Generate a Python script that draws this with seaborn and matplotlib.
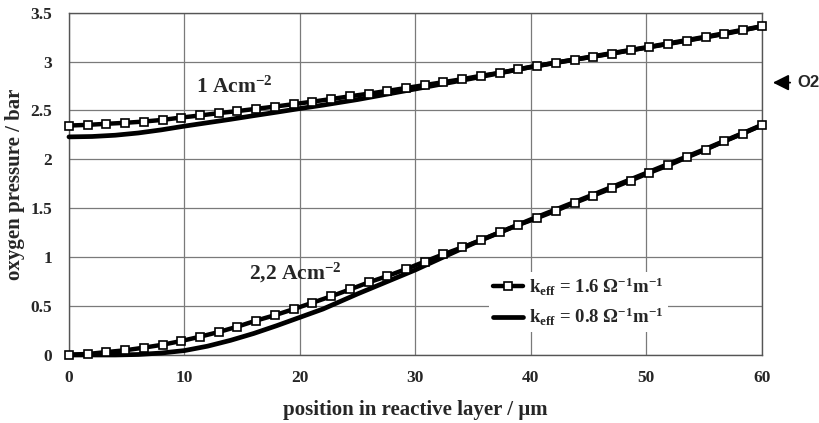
import numpy as np
import pandas as pd
import matplotlib
matplotlib.use("Agg")
import matplotlib.pyplot as plt
import seaborn as sns

# ---------------- data ----------------
n_sq = 38
x_sq = [i * 60.0 / 37 for i in range(n_sq)]

upper_sq = [2.346, 2.353, 2.364, 2.374, 2.387, 2.404, 2.428, 2.449, 2.473, 2.494,
            2.517, 2.54, 2.565, 2.59, 2.617, 2.645, 2.672, 2.70, 2.73, 2.76,
            2.79, 2.82, 2.855, 2.885, 2.92, 2.955, 2.99, 3.02, 3.05, 3.082,
            3.115, 3.147, 3.18, 3.214, 3.248, 3.282, 3.32, 3.36]
lower_sq = [0.004, 0.01, 0.03, 0.048, 0.075, 0.105, 0.143, 0.187, 0.235, 0.29,
            0.352, 0.407, 0.469, 0.534, 0.60, 0.67, 0.742, 0.807, 0.878, 0.955,
            1.03, 1.10, 1.175, 1.254, 1.33, 1.40, 1.475, 1.555, 1.63, 1.705,
            1.784, 1.863, 1.938, 2.02, 2.10, 2.185, 2.264, 2.35]

x_solid = [0, 2, 4, 6, 8, 10, 12, 14, 16, 18, 20, 22, 25, 30, 35, 40, 45, 50, 55, 60]
upper_solid = [2.23, 2.234, 2.247, 2.27, 2.302, 2.34, 2.375, 2.41, 2.447, 2.483,
               2.52, 2.555, 2.612, 2.72, 2.83, 2.945, 3.045, 3.145, 3.25, 3.36]
lower_solid = [0.0, 0.0, 0.0, 0.005, 0.02, 0.045, 0.09, 0.15, 0.22, 0.30,
               0.385, 0.47, 0.625, 0.87, 1.14, 1.385, 1.62, 1.86, 2.10, 2.35]

x_ticks = [0, 10, 20, 30, 40, 50, 60]
y_ticks = [0, 0.5, 1, 1.5, 2, 2.5, 3, 3.5]
y_tick_labels = ["0", "0.5", "1", "1.5", "2", "2.5", "3", "3.5"]

label_sq = r"k$_{eff}$ = 1.6 $\Omega^{-1}$m$^{-1}$"
label_solid = r"k$_{eff}$ = 0.8 $\Omega^{-1}$m$^{-1}$"

# ---------------- style ----------------
sns.set_style("white")
plt.rcParams["font.family"] = ["Liberation Serif", "DejaVu Serif"]
plt.rcParams["font.weight"] = "bold"
plt.rcParams["mathtext.fontset"] = "custom"
plt.rcParams["mathtext.rm"] = "Liberation Serif:bold"
plt.rcParams["mathtext.bf"] = "Liberation Serif:bold"
plt.rcParams["mathtext.it"] = "Liberation Serif:bold"
plt.rcParams["mathtext.default"] = "bf"

fig = plt.figure(figsize=(8.2, 4.23), dpi=100)
ax = fig.add_axes([0.0841, 0.1608, 0.929 - 0.0841, 0.97 - 0.1608])

df_sq_u = pd.DataFrame({"x": x_sq, "y": upper_sq})
df_sq_l = pd.DataFrame({"x": x_sq, "y": lower_sq})
df_so_u = pd.DataFrame({"x": x_solid, "y": upper_solid})
df_so_l = pd.DataFrame({"x": x_solid, "y": lower_solid})

sq_kw = dict(color="black", linewidth=3.2, marker="s", markersize=6.3,
             markerfacecolor="white", markeredgecolor="black", markeredgewidth=1.2)
so_kw = dict(color="black", linewidth=3.4)

sns.lineplot(data=df_so_u, x="x", y="y", ax=ax, label=label_solid, zorder=3, **so_kw)
sns.lineplot(data=df_so_l, x="x", y="y", ax=ax, zorder=3, **so_kw)
sns.lineplot(data=df_sq_u, x="x", y="y", ax=ax, label=label_sq, zorder=4, **sq_kw)
sns.lineplot(data=df_sq_l, x="x", y="y", ax=ax, zorder=4, **sq_kw)
for ln in ax.get_lines():
    ln.set_clip_on(False)

ax.set_xlim(0, 60)
ax.set_ylim(0, 3.5)
ax.set_xticks(x_ticks)
ax.set_xticklabels([str(t) for t in x_ticks])
ax.set_yticks(y_ticks)
ax.set_yticklabels(y_tick_labels)
ax.tick_params(axis="x", length=0, labelsize=12.5, pad=11)
ax.tick_params(axis="y", length=0, labelsize=12.5, pad=12)
for lab in ax.get_xticklabels() + ax.get_yticklabels():
    lab.set_fontweight("bold")

ax.grid(True, color="#7a7a7a", linewidth=0.9)
ax.set_axisbelow(True)
for s in ax.spines.values():
    s.set_color("#555555")
    s.set_linewidth(1.0)

ax.set_xlabel("position in reactive layer / µm", fontsize=15, fontweight="bold", labelpad=10)
ax.set_ylabel("oxygen pressure / bar", fontsize=15, fontweight="bold", labelpad=4)

ax.text(11.0, 2.74, r"1 Acm$^{-2}$", fontsize=15.5, fontweight="bold", va="center", ha="left")
ax.text(15.6, 0.84, r"2,2 Acm$^{-2}$", fontsize=15.5, fontweight="bold", va="center", ha="left")

# O2 arrow
ax.annotate("", xy=(60.72, 2.785), xytext=(62.7, 2.785),
            arrowprops=dict(arrowstyle="-|>", color="black", lw=1.3, mutation_scale=24),
            annotation_clip=False)
ax.text(63.05, 2.785, "O2", fontsize=12, fontweight="bold", va="center", ha="left",
        family=["Liberation Sans", "DejaVu Sans"], clip_on=False)

handles, labels = ax.get_legend_handles_labels()
order = [labels.index(label_sq), labels.index(label_solid)]
leg = ax.legend([handles[i] for i in order], [labels[i] for i in order],
                loc="center", bbox_to_anchor=(0.735, 0.155), frameon=True,
                facecolor="white", edgecolor="none", framealpha=1.0,
                fontsize=13.5, handlelength=1.6, handletextpad=0.35,
                labelspacing=0.45, borderpad=0.2)

fig.savefig("out.png", dpi=100)
